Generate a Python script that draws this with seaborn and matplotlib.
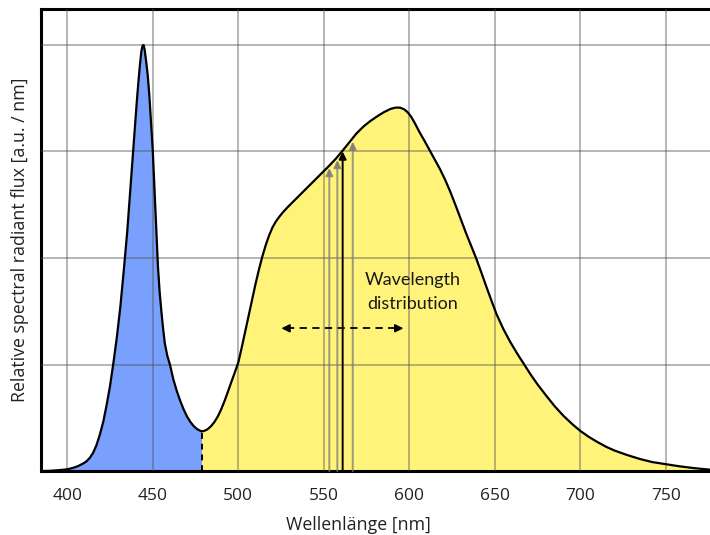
import numpy as np
import pandas as pd
import seaborn as sns
import matplotlib.pyplot as plt

# spectrum (nm, relative flux, peak = 1)
blue_nm = [385, 390, 395, 400, 403, 406, 409, 411, 413, 415, 417, 419, 421,
           423, 425, 427, 429, 431, 433, 435, 437, 439, 440.5, 441.5, 442.5,
           443.3, 444, 444.6, 445.2, 446, 447, 448, 449, 450, 451, 452, 453,
           454, 455, 456, 457, 458.5, 460, 462, 464, 466, 468, 470, 472, 474,
           476, 478.5]
blue_flux = [0.0, 0.0005, 0.002, 0.004, 0.007, 0.011, 0.017, 0.022, 0.03,
             0.042, 0.06, 0.085, 0.115, 0.155, 0.2, 0.255, 0.315, 0.385, 0.47,
             0.56, 0.67, 0.78, 0.86, 0.91, 0.955, 0.985, 0.998, 1.0, 0.99,
             0.965, 0.93, 0.88, 0.815, 0.75, 0.66, 0.565, 0.48, 0.42, 0.375,
             0.335, 0.30, 0.27, 0.25, 0.215, 0.188, 0.165, 0.145, 0.128, 0.115,
             0.105, 0.098, 0.093]

yellow_nm = [478.5, 480, 482, 484, 486, 488, 490, 492, 494, 496, 498, 500,
             502, 504, 506, 508, 510, 512, 514, 516, 518, 520, 522, 524, 526,
             529, 532, 535, 538, 541, 545, 549, 553, 557, 561, 565, 569, 573,
             577, 581, 585, 589, 592, 594.5, 597, 599, 601, 603, 606, 609, 612,
             615, 618, 621, 624, 627, 630, 633, 636, 639, 642, 645, 648, 651,
             655, 659, 663, 667, 671, 675, 680, 685, 690, 695, 700, 705, 710,
             715, 720, 727, 735, 742, 750, 758, 766, 776]
yellow_flux = [0.093, 0.094, 0.098, 0.105, 0.115, 0.128, 0.145, 0.165, 0.187,
               0.21, 0.232, 0.255, 0.29, 0.327, 0.365, 0.402, 0.438, 0.472,
               0.503, 0.53, 0.553, 0.572, 0.586, 0.597, 0.607, 0.62, 0.632,
               0.644, 0.656, 0.668, 0.684, 0.70, 0.716, 0.733, 0.752, 0.772,
               0.792, 0.808, 0.821, 0.832, 0.842, 0.85, 0.853, 0.853, 0.849,
               0.842, 0.832, 0.818, 0.795, 0.774, 0.752, 0.73, 0.708, 0.683,
               0.655, 0.624, 0.592, 0.56, 0.53, 0.50, 0.467, 0.433, 0.40, 0.368,
               0.333, 0.303, 0.276, 0.251, 0.226, 0.203, 0.177, 0.152, 0.13,
               0.111, 0.094, 0.08, 0.068, 0.057, 0.048, 0.038, 0.028, 0.021,
               0.016, 0.011, 0.007, 0.003]

# vertical arrows (wavelength, tip height); the black one is the mean
arrow_nm = [553.2, 557.9, 566.9]
arrow_tip = [0.711, 0.730, 0.773]
mean_nm, mean_tip = 561.0, 0.750

# horizontal "distribution" arrow
spread_nm = [525.2, 596.5]
spread_y = 0.335

x_ticks = [400, 450, 500, 550, 600, 650, 700, 750]
y_grid = [0.25, 0.5, 0.75, 1.0]

sns.set_style("white")
plt.rcParams['font.family'] = ['Open Sans', 'DejaVu Sans']

df = pd.DataFrame({"nm": blue_nm + yellow_nm[1:],
                   "flux": blue_flux + yellow_flux[1:]})

fig = plt.figure(figsize=(7.1, 5.35), dpi=100)
ax = fig.add_axes([0.0577, 0.1196, 0.9423, 0.8636])

ax.fill_between(blue_nm, blue_flux, color="#78a0fc", lw=0, zorder=1)
ax.fill_between(yellow_nm, yellow_flux, color="#fff37a", lw=0, zorder=1)
sns.lineplot(data=df, x="nm", y="flux", color="black", lw=1.6, sort=False,
             estimator=None, ax=ax, zorder=4)

# dashed border between the two regions
ax.plot([blue_nm[-1], blue_nm[-1]], [0, blue_flux[-1]], color="black",
        lw=1.4, ls=(0, (3, 2.5)), zorder=4)

for x, tip in zip(arrow_nm, arrow_tip):
    ax.annotate("", xy=(x, tip), xytext=(x, 0),
                arrowprops=dict(arrowstyle="-|>", color="#7a7a7a", alpha=0.75,
                                lw=1.4, mutation_scale=11, shrinkA=0, shrinkB=0),
                zorder=3)
ax.annotate("", xy=(mean_nm, mean_tip), xytext=(mean_nm, 0),
            arrowprops=dict(arrowstyle="-|>", color="black", lw=1.4,
                            mutation_scale=11, shrinkA=0, shrinkB=0), zorder=3)

ax.plot([spread_nm[0] + 3, spread_nm[1] - 3], [spread_y, spread_y],
        color="black", lw=1.3, ls=(0, (4, 3)), zorder=4)
for x_end, x_from in [(spread_nm[0], spread_nm[0] + 4), (spread_nm[1], spread_nm[1] - 4)]:
    ax.annotate("", xy=(x_end, spread_y), xytext=(x_from, spread_y),
                arrowprops=dict(arrowstyle="-|>", color="black", lw=1.2,
                                mutation_scale=12, shrinkA=0, shrinkB=0),
                zorder=4)

ax.text(601.8, 0.42, "Wavelength\ndistribution", ha="center", va="center",
        fontsize=13, family=["Lato", "DejaVu Sans"], linespacing=1.65,
        color="#1a1a1a", zorder=5)

ax.set_xlim(384.6, 775.8)
ax.set_ylim(0, 1.0845)
ax.set_xticks(x_ticks)
ax.set_yticks(y_grid)
ax.set_yticklabels([])
ax.tick_params(axis="x", length=5, width=1.3, color="#9a9a9a", labelsize=12.5,
               pad=7, labelcolor="#222222")
ax.tick_params(axis="y", length=0)

ax.set_axisbelow(False)
ax.grid(True, color="#505050", alpha=0.45, lw=1.3, zorder=2.5)

for side in ["left", "top", "bottom"]:
    ax.spines[side].set_linewidth(2.2)
    ax.spines[side].set_color("black")
ax.spines["right"].set_visible(False)

ax.set_xlabel("Wellenlänge [nm]", fontsize=12.8, color="#222222")
ax.xaxis.set_label_coords(0.474, -0.098)
ax.set_ylabel("Relative spectral radiant flux [a.u. / nm]", fontsize=12.8,
              labelpad=5, color="#222222")

fig.savefig("out.png", dpi=100)
